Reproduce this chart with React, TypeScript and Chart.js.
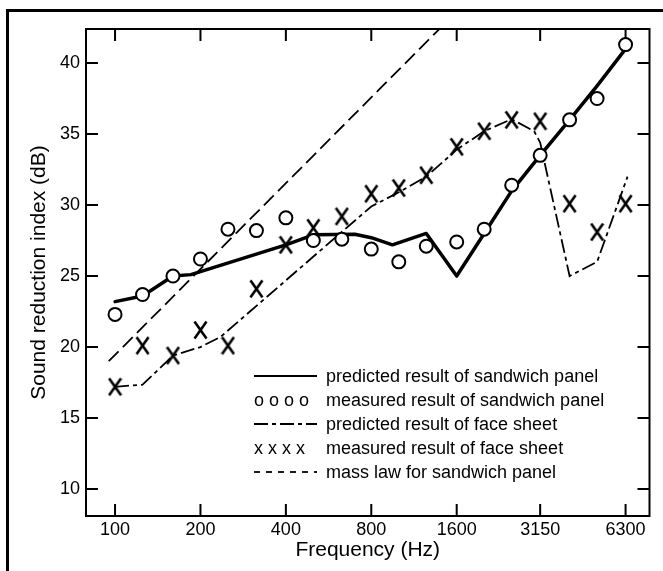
import React, { useEffect, useRef } from 'react';
import { Chart, registerables } from 'chart.js';

Chart.register(...registerables);

// 1/3-octave band centre frequencies (Hz)
const bandFreqs = [100, 125, 160, 200, 250, 315, 400, 500, 630, 800, 1000, 1250, 1600, 2000, 2500, 3150, 4000, 5000, 6300];
// measured result of sandwich panel (circles)
const measuredSandwich = [22.3, 23.7, 25.0, 26.2, 28.3, 28.2, 29.1, 27.5, 27.6, 26.9, 26.0, 27.1, 27.4, 28.3, 31.4, 33.5, 36.0, 37.5, 41.3];
// measured result of face sheet (crosses)
const measuredFace = [17.2, 20.1, 19.4, 21.2, 20.1, 24.1, 27.2, 28.4, 29.2, 30.8, 31.2, 32.1, 34.1, 35.2, 36.0, 35.9, 30.1, 28.1, 30.1];
// predicted result of sandwich panel (solid)
const predictedSandwichFreqs = [100, 125, 160, 185, 400, 500, 700, 800, 950, 1250, 1600, 2000, 2500, 3150, 4000, 5000, 6300];
const predictedSandwich = [23.2, 23.6, 25.0, 25.1, 27.2, 27.9, 27.95, 27.7, 27.2, 28.0, 25.0, 28.0, 31.0, 33.5, 36.0, 38.4, 41.0];
// predicted result of face sheet (dash-dot)
const predictedFaceFreqs = [100, 125, 160, 200, 235, 800, 1000, 1250, 1600, 2000, 2500, 3000, 3150, 4000, 5000, 6400];
const predictedFace = [17.2, 17.35, 19.4, 20.0, 20.7, 29.9, 30.9, 32.0, 33.9, 35.2, 36.05, 35.2, 34.4, 25.0, 26.0, 32.0];
// mass law for sandwich panel (dashed)
const massLawFreqs = [95, 1390];
const massLaw = [19.0, 42.4];

const xTickValues = [100, 200, 400, 800, 1600, 3150, 6300];
const yTickValues = [10, 15, 20, 25, 30, 35, 40];

const legendLabels = [
  'predicted result of sandwich panel',
  'measured result of sandwich panel',
  'predicted result of face sheet',
  'measured result of face sheet',
  'mass law for sandwich panel',
];
const legendSymbols = ['solid', 'o o o o', 'dashdot', 'x x x x', 'dashed'];

const FONT = '"Liberation Sans", Arial, Helvetica, sans-serif';

const pts = (xs: number[], ys: number[]) => xs.map((x, i) => ({ x, y: ys[i] }));

function makeCross(): HTMLCanvasElement {
  const c = document.createElement('canvas');
  c.width = 15;
  c.height = 20;
  const g = c.getContext('2d')!;
  g.strokeStyle = '#000';
  g.lineWidth = 2.6;
  g.beginPath();
  g.moveTo(1.5, 1.5);
  g.lineTo(13.5, 18.5);
  g.moveTo(13.5, 1.5);
  g.lineTo(1.5, 18.5);
  g.stroke();
  return c;
}

const framePlugin = {
  id: 'frameAndTicks',
  beforeDraw(chart: any) {
    const { ctx } = chart;
    ctx.save();
    ctx.fillStyle = '#fff';
    ctx.fillRect(0, 0, chart.width, chart.height);
    ctx.fillStyle = '#000';
    ctx.fillRect(6, 9, 3, chart.height - 9);
    ctx.fillRect(6, 9, chart.width - 6, 3);
    ctx.restore();
  },
  beforeDatasetsDraw(chart: any) {
    const { ctx, chartArea: a, scales } = chart;
    const xs = scales.x;
    const ys = scales.y;
    ctx.save();
    ctx.strokeStyle = '#000';
    ctx.lineWidth = 2;
    ctx.strokeRect(a.left, a.top, a.right - a.left, a.bottom - a.top);
    const tl = 12;
    ctx.beginPath();
    for (const t of xs.ticks) {
      const px = xs.getPixelForValue(t.value);
      ctx.moveTo(px, a.bottom);
      ctx.lineTo(px, a.bottom - tl);
      ctx.moveTo(px, a.top);
      ctx.lineTo(px, a.top + tl);
    }
    for (const t of ys.ticks) {
      const py = ys.getPixelForValue(t.value);
      ctx.moveTo(a.left, py);
      ctx.lineTo(a.left + tl, py);
      ctx.moveTo(a.right, py);
      ctx.lineTo(a.right - tl, py);
    }
    ctx.stroke();
    ctx.restore();
  },
};

const legendPlugin = {
  id: 'insideLegend',
  afterDraw(chart: any) {
    const { ctx } = chart;
    const symX0 = 254;
    const symX1 = 317;
    const textX = 326;
    const rowY0 = 377;
    const rowGap = 24;
    ctx.save();
    ctx.fillStyle = '#000';
    ctx.strokeStyle = '#000';
    ctx.font = `18px ${FONT}`;
    ctx.textBaseline = 'middle';
    ctx.textAlign = 'left';
    legendLabels.forEach((label, i) => {
      const y = rowY0 + i * rowGap;
      const sym = legendSymbols[i];
      if (sym === 'solid' || sym === 'dashdot' || sym === 'dashed') {
        ctx.save();
        ctx.lineWidth = 1.8;
        if (sym === 'dashdot') ctx.setLineDash([14, 4, 4, 4]);
        if (sym === 'dashed') ctx.setLineDash([6, 6]);
        ctx.beginPath();
        ctx.moveTo(symX0, y - 1);
        ctx.lineTo(symX1, y - 1);
        ctx.stroke();
        ctx.restore();
      } else {
        ctx.fillText(sym, symX0, y);
      }
      ctx.fillText(label, textX, y);
    });
    ctx.restore();
  },
};

export default function App() {
  const ref = useRef<HTMLCanvasElement | null>(null);

  useEffect(() => {
    document.body.style.margin = '0';
    const canvas = ref.current;
    if (!canvas) return;
    Chart.defaults.font.family = FONT;
    Chart.defaults.color = '#000';
    const cross = makeCross();

    const chart = new Chart(canvas, {
      type: 'line',
      data: {
        datasets: [
          {
            label: 'measured result of sandwich panel',
            data: pts(bandFreqs, measuredSandwich),
            showLine: false,
            pointStyle: 'circle',
            pointRadius: 6.5,
            pointBorderWidth: 2,
            pointBorderColor: '#000',
            pointBackgroundColor: '#fff',
            order: 0,
          },
          {
            label: 'measured result of face sheet',
            data: pts(bandFreqs, measuredFace),
            showLine: false,
            pointStyle: cross as any,
            pointRadius: 8,
            order: 1,
          },
          {
            label: 'predicted result of sandwich panel',
            data: pts(predictedSandwichFreqs, predictedSandwich),
            borderColor: '#000',
            borderWidth: 3.5,
            borderJoinStyle: 'round',
            borderCapStyle: 'round',
            pointRadius: 0,
            tension: 0,
            order: 2,
          },
          {
            label: 'predicted result of face sheet',
            data: pts(predictedFaceFreqs, predictedFace),
            borderColor: '#000',
            borderWidth: 1.8,
            borderDash: [14, 4, 4, 4],
            pointRadius: 0,
            tension: 0,
            order: 3,
          },
          {
            label: 'mass law for sandwich panel',
            data: pts(massLawFreqs, massLaw),
            borderColor: '#000',
            borderWidth: 1.8,
            borderDash: [14, 6],
            pointRadius: 0,
            tension: 0,
            order: 4,
          },
        ],
      },
      options: {
        responsive: false,
        animation: false,
        devicePixelRatio: 1,
        events: [],
        layout: { padding: { left: 0, top: 29, right: 13.5, bottom: 0 } },
        plugins: {
          legend: { display: false },
          tooltip: { enabled: false },
        },
        scales: {
          x: {
            type: 'logarithmic',
            min: 79,
            max: 7650,
            grid: { display: false, drawTicks: false },
            border: { display: false },
            afterBuildTicks: (scale: any) => {
              scale.ticks = xTickValues.map((v) => ({ value: v }));
            },
            afterFit: (scale: any) => {
              scale.height = 55;
            },
            ticks: {
              autoSkip: false,
              maxRotation: 0,
              padding: 3,
              color: '#000',
              font: { size: 18, family: FONT },
              callback: (v: any) => String(v),
            },
            title: {
              display: true,
              text: 'Frequency (Hz)',
              color: '#000',
              font: { size: 21, family: FONT },
              padding: { top: 0, bottom: 8.4 },
            },
          },
          y: {
            type: 'linear',
            min: 8.1,
            max: 42.4,
            grid: { display: false, drawTicks: false },
            border: { display: false },
            afterBuildTicks: (scale: any) => {
              scale.ticks = yTickValues.map((v) => ({ value: v }));
            },
            afterFit: (scale: any) => {
              scale.width = 86;
            },
            ticks: {
              padding: 6,
              color: '#000',
              font: { size: 18, family: FONT },
              callback: (v: any) => String(v),
            },
            title: {
              display: true,
              text: 'Sound reduction index (dB)',
              color: '#000',
              font: { size: 21, family: FONT },
              padding: { top: 27, bottom: 0 },
            },
          },
        },
      },
      plugins: [framePlugin, legendPlugin],
    });

    return () => {
      chart.destroy();
    };
  }, []);

  return (
    <div style={{ width: 663, height: 571 }}>
      <canvas ref={ref} width={663} height={571} style={{ display: 'block' }} />
    </div>
  );
}
